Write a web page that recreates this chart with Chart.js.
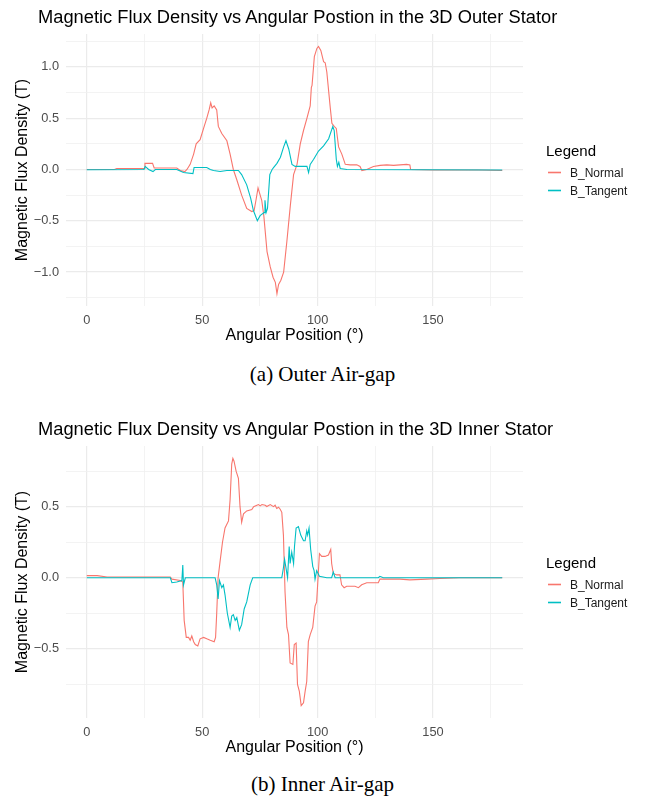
<!DOCTYPE html>
<html>
<head>
<meta charset="utf-8">
<script src="https://cdn.jsdelivr.net/npm/chart.js@4.4.1/dist/chart.umd.min.js"></script>
<style>
  body { margin: 0; width: 645px; height: 802px; background: #fff; position: relative; overflow: hidden; }
  .plot { position: absolute; left: 0; width: 645px; height: 355px; }
  .title { position: absolute; left: 38px; font: 18.3px/18px "Liberation Sans", Arial, sans-serif; color: #000; white-space: nowrap; }
  .caption { position: absolute; left: 0; width: 645px; text-align: center; font: 21px/21px "Liberation Serif", "Times New Roman", serif; color: #000; }
</style>
</head>
<body>
<div class="plot" style="top:0"><canvas id="outerChart"></canvas></div>
<div class="title" style="top:8px">Magnetic Flux Density vs Angular Postion in the 3D Outer Stator</div>
<div class="caption" style="top:364px">(a) Outer Air-gap</div>

<div class="plot" style="top:412px"><canvas id="innerChart"></canvas></div>
<div class="title" style="top:420px">Magnetic Flux Density vs Angular Postion in the 3D Inner Stator</div>
<div class="caption" style="top:774px">(b) Inner Air-gap</div>

<script>
// [angle (deg), flux density (T)]
const outerNormal = [
  [0, 0], [12, 0], [13, 0.01], [24.8, 0.01], [25.2, 0.06], [28.5, 0.06], [29.2, 0.015],
  [39, 0.015], [40.5, -0.01], [42.5, -0.02], [43.4, 0], [44.8, 0.05], [46.3, 0.15],
  [47.4, 0.25], [49.1, 0.29], [50.6, 0.4], [52, 0.5], [53, 0.58], [53.7, 0.65],
  [54.3, 0.6], [55.2, 0.62], [56.3, 0.58], [57, 0.42], [58.5, 0.35], [60.7, 0.28],
  [62.1, 0.15], [63.5, 0], [65, -0.1], [67.1, -0.25], [69.3, -0.38], [71.5, -0.41],
  [72.5, -0.4], [73.3, -0.3], [74.2, -0.18], [75.8, -0.3], [76.7, -0.45], [78.1, -0.8],
  [79.5, -0.95], [80.7, -1.05], [81.7, -1.1], [82.4, -1.21], [83.1, -1.12], [84.1, -1.08],
  [85.3, -1.0], [86.7, -0.7], [88.2, -0.35], [89.6, -0.05], [91.1, 0.05], [92.5, 0.25],
  [93.9, 0.38], [95.4, 0.5], [96.8, 0.62], [97.3, 0.8], [97.6, 0.82], [98.6, 1.1],
  [99.7, 1.18], [100.4, 1.2], [101.4, 1.16], [102.6, 1.05], [103.3, 1.04], [104, 0.95],
  [105.5, 0.6], [106.2, 0.45], [107.2, 0.42], [108.1, 0.4], [109.1, 0.22], [110.5, 0.15],
  [112, 0.05], [114.1, 0.045], [117, 0.045], [118.4, 0.03], [119.2, -0.01], [121.3, 0],
  [124.2, 0.03], [127.1, 0.04], [130, 0.045], [132.9, 0.04], [135.7, 0.045], [138.6, 0.05],
  [140, 0.045], [140.3, 0], [150, -0.005], [170, -0.005], [180, -0.01]
];
const outerTangent = [
  [0, -0.003], [24.8, 0], [25.3, 0.03], [26.8, 0], [28.7, -0.02], [29.7, 0], [39, 0],
  [41.9, -0.03], [46, -0.04], [46.5, 0.02], [49.1, 0.02], [52, 0.02], [53.5, 0],
  [54.9, -0.01], [57.8, -0.02], [60.7, -0.01], [65.7, -0.01], [67.1, -0.05], [69.3, -0.15],
  [71, -0.28], [72.2, -0.4], [73.9, -0.5], [75.1, -0.45], [76.8, -0.42], [77.2, -0.3],
  [77.7, -0.42], [78.3, -0.38], [79.3, -0.05], [80.3, 0], [81, 0.02], [82.4, 0.06],
  [83.9, 0.12], [85.3, 0.22], [86.3, 0.28], [87.5, 0.2], [88.9, 0.05], [90.3, 0.03],
  [95.4, 0.03], [96.1, -0.03], [96.8, 0.05], [98.3, 0.1], [100.4, 0.18], [102.6, 0.23],
  [104.8, 0.3], [106.6, 0.42], [107.2, 0.38], [108.1, 0.1], [108.6, 0.03], [109.2, 0.07],
  [109.8, 0.01], [112.7, 0], [180, -0.005]
];
const innerNormal = [
  [0, 0.015], [4.5, 0.015], [8.8, 0.005], [36.2, 0.005], [36.9, -0.01], [40.5, -0.02],
  [41.6, -0.03], [42.2, -0.3], [43.1, -0.42], [44.1, -0.42], [44.8, -0.44], [45.5, -0.41],
  [46.3, -0.45], [47, -0.47], [48.1, -0.48], [49.1, -0.43], [50.6, -0.42], [52, -0.43],
  [53.5, -0.44], [55.2, -0.45], [55.8, -0.42], [56.3, -0.25], [56.9, 0], [57.8, 0.12],
  [58.8, 0.25], [59.9, 0.35], [61.4, 0.4], [62.1, 0.55], [62.8, 0.8], [63.3, 0.84],
  [63.8, 0.82], [64.7, 0.75], [65.7, 0.7], [66.4, 0.5], [67.1, 0.39], [67.9, 0.45],
  [69.3, 0.47], [71.5, 0.48], [72.3, 0.5], [73.7, 0.51], [74.4, 0.515], [75.1, 0.506],
  [75.9, 0.515], [77.3, 0.51], [78, 0.501], [79.5, 0.515], [80.9, 0.5], [81.6, 0.51],
  [82.3, 0.487], [83.1, 0.496], [83.8, 0.482], [84.5, 0.46], [85.2, 0.3], [85.9, -0.1], [86.7, -0.35],
  [87.4, -0.4], [88.1, -0.6], [89.3, -0.61], [89.9, -0.47], [90.7, -0.46], [91.3, -0.75],
  [92.1, -0.8], [92.9, -0.9], [93.9, -0.88], [94.6, -0.8], [95.3, -0.73], [96, -0.45],
  [96.8, -0.4], [97.9, -0.35], [98.9, -0.2], [99.6, -0.17], [100.2, 0], [100.8, 0.17],
  [101.8, 0.15], [103.2, 0.15], [104.7, 0.16], [105.7, 0.2], [106.1, 0.1], [106.8, 0.03],
  [108.3, 0.02], [109.7, 0.02], [110.4, -0.05], [111.5, -0.07], [112.6, -0.06], [114, -0.06],
  [116.2, -0.06], [117.7, -0.07], [119.1, -0.05], [121.3, -0.035], [126.3, -0.035],
  [127, -0.01], [135.7, -0.01], [140, -0.015], [147.2, -0.01], [153, -0.005], [161.6, 0],
  [180, 0]
];
const innerTangent = [
  [0, 0], [36.2, 0], [36.9, -0.035], [39, -0.03], [41.2, -0.02], [41.6, 0.09], [41.9, -0.05],
  [42.7, 0], [55.6, 0], [56.3, -0.05], [56.9, -0.15], [57.5, -0.02], [58.5, -0.07],
  [59.2, -0.05], [59.9, -0.12], [60.9, -0.25], [62.1, -0.35], [62.8, -0.27], [63.5, -0.26],
  [64.3, -0.3], [65, -0.28], [66.1, -0.37], [67.1, -0.33], [68.2, -0.22], [69.3, -0.17],
  [70.8, -0.05], [71.9, 0], [84.5, 0], [85.2, 0.07], [85.7, 0.13], [86.2, 0.08], [87, 0],
  [87.7, 0.22], [88.1, 0.1], [88.8, 0.18], [89.6, 0.1], [90, 0.22], [90.7, 0.35],
  [91.7, 0.36], [92.7, 0.3], [93.9, 0.26], [94.6, 0.26], [95.3, 0.33], [95.7, 0.3],
  [96.3, 0.35], [97, 0.2], [97.9, 0.08], [98.5, 0.05], [98.9, -0.01], [99.6, 0.05],
  [100.8, 0.01], [104, 0], [106.1, 0], [106.8, 0.04], [107.6, 0], [126.3, 0], [127, 0.01],
  [128.5, 0], [180, 0]
];

const seriesNames = ['B_Normal', 'B_Tangent'];
const seriesColors = ['#F8766D', '#00BFC4'];
const xLabels = [0, 50, 100, 150];
const outerYLabels = [-1, -0.5, 0, 0.5, 1];
const innerYLabels = [-0.5, 0, 0.5];

// ggplot-style 5% expansion of the data range
function expandRange(values) {
  const lo = Math.min(...values);
  const hi = Math.max(...values);
  const pad = (hi - lo) * 0.05;
  return [lo - pad, hi + pad];
}

const isLabel = (list, v) => list.some(l => Math.abs(l - v) < 1e-6);

// legend drawn to the right of the panel, ggplot style
const sideLegend = {
  id: 'sideLegend',
  afterDraw(chart) {
    const { ctx, chartArea } = chart;
    const x = chartArea.right + 23;
    const cy = (chartArea.top + chartArea.bottom) / 2;
    ctx.save();
    ctx.fillStyle = '#000';
    ctx.textBaseline = 'alphabetic';
    ctx.textAlign = 'left';
    ctx.font = '15px "Liberation Sans", Arial, sans-serif';
    ctx.fillText('Legend', x, cy - 14.3);
    ctx.font = '12px "Liberation Sans", Arial, sans-serif';
    chart.data.datasets.forEach((ds, i) => {
      const y = cy + 2.5 + i * 18;
      ctx.strokeStyle = ds.borderColor;
      ctx.lineWidth = 1.6;
      ctx.beginPath();
      ctx.moveTo(x + 2, y);
      ctx.lineTo(x + 15, y);
      ctx.stroke();
      ctx.fillStyle = '#1a1a1a';
      ctx.fillText(ds.label, x + 24, y + 4.3);
    });
    ctx.restore();
  }
};

function makeChart(id, normal, tangent, yLabels) {
  const xRange = expandRange(normal.concat(tangent).map(p => p[0]));
  const yRange = expandRange(normal.concat(tangent).map(p => p[1]));
  const gridColor = (labels) => (c) => isLabel(labels, c.tick.value) ? '#EBEBEB' : '#F0F0F0';
  const gridWidth = (labels) => (c) => isLabel(labels, c.tick.value) ? 1.2 : 0.8;

  return new Chart(document.getElementById(id), {
    type: 'line',
    data: {
      datasets: [normal, tangent].map((pts, i) => ({
        label: seriesNames[i],
        data: pts.map(p => ({ x: p[0], y: p[1] })),
        borderColor: seriesColors[i],
        backgroundColor: seriesColors[i],
        borderWidth: 1.1,
        pointRadius: 0,
        tension: 0,
        order: 1 - i
      }))
    },
    options: {
      responsive: true,
      maintainAspectRatio: false,
      animation: false,
      events: [],
      layout: { padding: { top: 34, left: 10, right: 122, bottom: 6 } },
      plugins: { legend: { display: false }, title: { display: false }, tooltip: { enabled: false } },
      scales: {
        x: {
          type: 'linear',
          min: xRange[0],
          max: xRange[1],
          border: { display: false },
          grid: { color: gridColor(xLabels), lineWidth: gridWidth(xLabels), drawTicks: false },
          ticks: {
            stepSize: 25,
            includeBounds: false,
            autoSkip: false,
            maxRotation: 0,
            padding: 7,
            color: '#4D4D4D',
            font: { size: 12.8 },
            callback: v => isLabel(xLabels, v) ? String(v) : ''
          },
          title: { display: true, text: 'Angular Position (°)', color: '#000', font: { size: 16 }, padding: { top: 0, bottom: 4 } },
          afterFit: s => { s.height = 43; }
        },
        y: {
          type: 'linear',
          min: yRange[0],
          max: yRange[1],
          border: { display: false },
          grid: { color: gridColor(yLabels), lineWidth: gridWidth(yLabels), drawTicks: false },
          ticks: {
            stepSize: 0.25,
            includeBounds: false,
            autoSkip: false,
            padding: 7,
            color: '#4D4D4D',
            font: { size: 12.8 },
            callback: v => isLabel(yLabels, v) ? v.toFixed(1).replace('-', '\u2212') : ''
          },
          title: { display: true, text: 'Magnetic Flux Density (T)', color: '#000', font: { size: 16 }, padding: { top: 3, bottom: 0 } },
          afterFit: s => { s.width = 56; }
        }
      }
    },
    plugins: [sideLegend]
  });
}

Chart.defaults.font.family = '"Liberation Sans", Arial, sans-serif';
makeChart('outerChart', outerNormal, outerTangent, outerYLabels);
makeChart('innerChart', innerNormal, innerTangent, innerYLabels);
</script>
</body>
</html>
